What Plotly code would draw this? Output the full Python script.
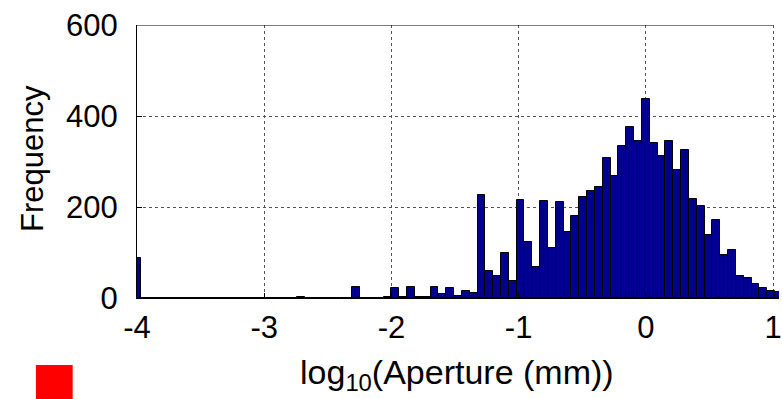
import numpy as np
import plotly.graph_objects as go

# Histogram of log10 aperture: bin centres start at -4 with a fixed bin width
bin_start = -4.0
bin_width = 0.06154
counts = [
    88, 0, 0, 0, 0, 0, 0, 0, 0, 0,
    0, 0, 0, 0, 0, 0, 0, 0, 0, 0,
    0, 3, 0, 0, 0, 0, 0, 0, 24, 0,
    0, 0, 2, 21, 3, 25, 2, 2, 25, 8,
    21, 4, 16, 10, 226, 60, 48, 100, 38, 215,
    124, 69, 214, 111, 210, 144, 180, 223, 236, 244,
    307, 268, 333, 375, 344, 437, 340, 313, 344, 281,
    325, 217, 202, 138, 171, 95, 106, 48, 44, 31,
    21, 15, 14,
]
x_ticks = [-4, -3, -2, -1, 0, 1]
y_ticks = [0, 200, 400, 600]

centers = bin_start + bin_width * np.arange(len(counts))

FONT = "Liberation Sans, Arial, sans-serif"

fig = go.Figure(
    go.Bar(
        x=centers,
        y=counts,
        width=bin_width,
        marker=dict(color="#00008F", line=dict(color="black", width=1)),
    )
)

fig.update_layout(
    width=782,
    height=399,
    margin=dict(l=137, r=0, t=25, b=101),
    paper_bgcolor="white",
    plot_bgcolor="white",
    bargap=0,
    showlegend=False,
    font=dict(family=FONT, size=31, color="black"),
)

fig.update_xaxes(
    range=[-4, 1.047],
    tickvals=x_ticks,
    ticktext=[str(v) for v in x_ticks],
    ticks="inside",
    ticklen=5,
    tickcolor="black",
    showline=True,
    linecolor="black",
    linewidth=1,
    showgrid=True,
    gridcolor="#555555",
    griddash="dot",
    gridwidth=1,
    zeroline=False,
    ticklabelstandoff=2,
    ticklabeloverflow="allow",
    tickfont=dict(family=FONT, size=31),
)
fig.update_yaxes(
    range=[0, 600],
    tickvals=y_ticks,
    ticks="inside",
    ticklen=5,
    tickcolor="black",
    showline=True,
    linecolor="black",
    linewidth=1,
    showgrid=True,
    gridcolor="#555555",
    griddash="dot",
    gridwidth=1,
    zeroline=False,
    ticklabelstandoff=12,
    tickfont=dict(family=FONT, size=31),
)

# Top border of the axes box, ending at x = 1
fig.add_shape(
    type="line", xref="x", yref="y",
    x0=-4, x1=1, y0=600, y1=600,
    line=dict(color="black", width=1),
)

# Axis titles
fig.add_annotation(
    text="log<sub>10</sub>(Aperture (mm))",
    xref="paper", yref="paper",
    x=0.4988, y=-0.28,
    xanchor="center", yanchor="middle",
    showarrow=False,
    font=dict(family=FONT, size=34),
)
fig.add_annotation(
    text="Frequency",
    xref="paper", yref="paper",
    x=-0.1637, y=0.5128,
    xanchor="center", yanchor="middle",
    textangle=-90,
    showarrow=False,
    font=dict(family=FONT, size=31),
)

# Red marker square in the lower-left corner
fig.add_shape(
    type="rect", xref="paper", yref="paper",
    x0=-0.1575, x1=-0.1002, y0=-0.37, y1=-0.2454,
    fillcolor="#FF0000", line=dict(width=0),
)

fig.write_html("out.html")
